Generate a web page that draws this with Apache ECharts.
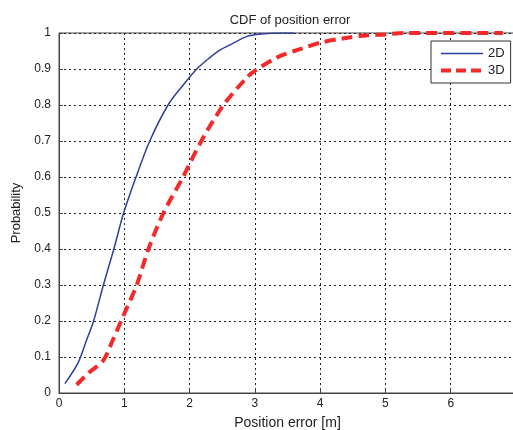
<!DOCTYPE html>
<html>
<head>
<meta charset="utf-8">
<script src="https://cdn.jsdelivr.net/npm/echarts@6/dist/echarts.min.js"></script>
<style>
body { margin: 0; background: #fff; }
#chart { width: 513px; height: 430px; }
</style>
</head>
<body>
<div id="chart"></div>
<script>
var xTicks = [0, 1, 2, 3, 4, 5, 6, 7];
var yTicks = [0, 0.1, 0.2, 0.3, 0.4, 0.5, 0.6, 0.7, 0.8, 0.9, 1];

var err2D = [0.09, 0.29, 0.42, 0.53, 0.68, 0.84, 0.99, 1.18, 1.39, 1.67, 1.9, 2.11, 2.3, 2.47, 2.65, 2.87, 3.1, 3.4, 3.6];
var cdf2D = [0.026, 0.083, 0.146, 0.2, 0.3, 0.4, 0.5, 0.6, 0.70, 0.8, 0.855, 0.9, 0.93, 0.953, 0.97, 0.99, 0.997, 1.0, 1.0];

var err3D = [0.27, 0.45, 0.68, 0.82, 0.96, 1.19, 1.37, 1.6, 1.9, 2.18, 2.52, 2.87, 3.0, 3.35, 3.69, 4.0, 4.35, 4.7, 5.0, 5.3, 6.8];
var cdf3D = [0.023, 0.055, 0.091, 0.145, 0.204, 0.30, 0.40, 0.5, 0.6, 0.7, 0.8, 0.875, 0.895, 0.933, 0.955, 0.973, 0.985, 0.993, 0.996, 1.0, 1.0];

function pairs(xs, ys) {
    var out = [];
    for (var i = 0; i < xs.length; i++) out.push([xs[i], ys[i]]);
    return out;
}

var chart = echarts.init(document.getElementById('chart'));
var font = 'Liberation Sans, Arial, sans-serif';

option = {
    animation: false,
    backgroundColor: '#fff',
    title: {
        text: 'CDF of position error',
        left: 285,
        textAlign: 'center',
        top: 9,
        textStyle: { fontSize: 13, fontWeight: 'normal', color: '#222', fontFamily: font }
    },
    legend: {
        orient: 'vertical',
        left: 431,
        top: 41,
        padding: [6, 6, 6, 8],
        itemGap: 4,
        itemWidth: 42,
        itemHeight: 14,
        itemStyle: { opacity: 0 },
        backgroundColor: '#fff',
        borderColor: '#333',
        borderWidth: 1,
        textStyle: { fontSize: 13, color: '#222', fontFamily: font },
        data: [
            { name: '2D', lineStyle: { width: 1.5 } },
            { name: '3D', lineStyle: { width: 4, type: [10, 5] } }
        ]
    },
    grid: {
        left: 59,
        top: 33,
        width: 457,
        height: 360,
        outerBoundsMode: 'none',
        containLabel: false,
        show: true,
        borderColor: '#444',
        borderWidth: 1
    },
    xAxis: {
        type: 'value',
        min: 0,
        max: 7,
        interval: 1,
        name: 'Position error [m]',
        nameLocation: 'middle',
        nameGap: 23,
        nameTextStyle: { fontSize: 14, color: '#222', fontFamily: font },
        axisLine: { lineStyle: { color: '#444' } },
        axisTick: { inside: true, length: 4, lineStyle: { color: '#444' } },
        axisLabel: { fontSize: 12, color: '#222', fontFamily: font, margin: 5 },
        splitLine: { show: true, lineStyle: { color: '#222', type: [2, 3], width: 1 } }
    },
    yAxis: {
        type: 'value',
        min: 0,
        max: 1,
        interval: 0.1,
        name: 'Probability',
        nameLocation: 'middle',
        nameGap: 35,
        nameTextStyle: { fontSize: 13, color: '#222', fontFamily: font },
        axisLine: { show: true, lineStyle: { color: '#444' } },
        axisTick: { show: true, inside: true, length: 4, lineStyle: { color: '#444' } },
        axisLabel: {
            fontSize: 12, color: '#222', fontFamily: font, margin: 8,
            formatter: function (v) { return String(Math.round(v * 10) / 10); }
        },
        splitLine: { show: true, lineStyle: { color: '#222', type: [2, 3], width: 1 } }
    },
    series: [
        {
            name: '2D',
            type: 'line',
            symbol: 'none',
            smooth: 0.3,
            color: '#2f3f9e',
            lineStyle: { color: '#2f3f9e', width: 1.5 },
            data: pairs(err2D, cdf2D)
        },
        {
            name: '3D',
            type: 'line',
            symbol: 'none',
            smooth: 0.3,
            color: '#f42a2a',
            lineStyle: { color: '#f42a2a', width: 4, type: [11, 6] },
            data: pairs(err3D, cdf3D)
        }
    ]
};
chart.setOption(option);
</script>
</body>
</html>
